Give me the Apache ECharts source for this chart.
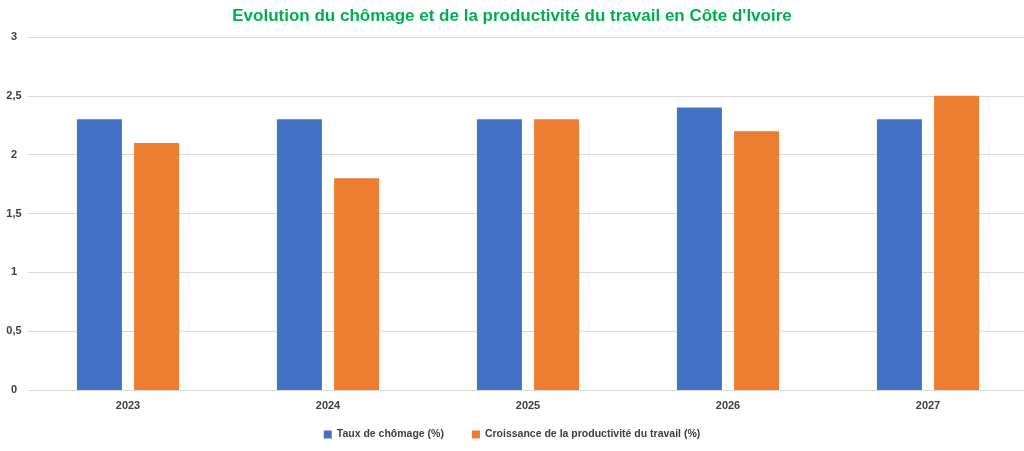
<!DOCTYPE html>
<html>
<head>
<meta charset="UTF-8">
<title></title>
<script src="https://cdn.jsdelivr.net/npm/echarts@6/dist/echarts.min.js"></script>
<style>
  html, body { margin: 0; padding: 0; background: #fff; }
  #chartArea { width: 1024px; height: 451px; }
</style>
</head>
<body>
<div id="chartArea"></div>
<script type="text/javascript">
  var years = ['2023', '2024', '2025', '2026', '2027'];
  var chomage = [2.3, 2.3, 2.3, 2.4, 2.3];
  var productivite = [2.1, 1.8, 2.3, 2.2, 2.5];
  var seriesNames = ['Taux de chômage (%)', 'Croissance de la productivité du travail (%)'];

  var myChart = echarts.init(document.getElementById('chartArea'));
  var labelFont = 'Liberation Sans, sans-serif';

  var option = {
    animation: false,
    title: {
      text: "Evolution du chômage et de la productivité du travail en Côte d'Ivoire",
      left: 'center',
      top: 3,
      textStyle: { color: '#00B050', fontSize: 17, fontWeight: 'bold', fontFamily: labelFont }
    },
    legend: {
      data: seriesNames,
      bottom: 6,
      left: 'center',
      itemWidth: 8,
      itemHeight: 8,
      itemGap: 28,
      icon: 'rect',
      textStyle: { color: '#404040', fontSize: 10.5, fontWeight: 'bold', fontFamily: labelFont }
    },
    grid: { left: 28, right: -4, top: 37, bottom: 61, outerBoundsMode: 'none', containLabel: false },
    xAxis: {
      type: 'category',
      data: years,
      axisLine: { lineStyle: { color: '#d9d9d9' } },
      axisTick: { show: false },
      axisLabel: { color: '#404040', fontSize: 11, fontWeight: 'bold', fontFamily: labelFont, margin: 10 }
    },
    yAxis: {
      type: 'value',
      min: 0,
      max: 3,
      interval: 0.5,
      axisLine: { show: false },
      axisTick: { show: false },
      splitLine: { lineStyle: { color: '#d9d9d9' } },
      axisLabel: {
        color: '#404040', fontSize: 11, fontWeight: 'bold', fontFamily: labelFont, margin: 14, align: 'center',
        formatter: function (v) { return String(v).replace('.', ','); }
      }
    },
    series: [{
      name: seriesNames[0],
      type: 'bar',
      data: chomage,
      barWidth: 45,
      barGap: '27%',
      itemStyle: { color: '#4472C4' }
    }, {
      name: seriesNames[1],
      type: 'bar',
      data: productivite,
      barWidth: 45,
      itemStyle: { color: '#ED7D31' }
    }]
  };
  myChart.setOption(option);
</script>
</body>
</html>
